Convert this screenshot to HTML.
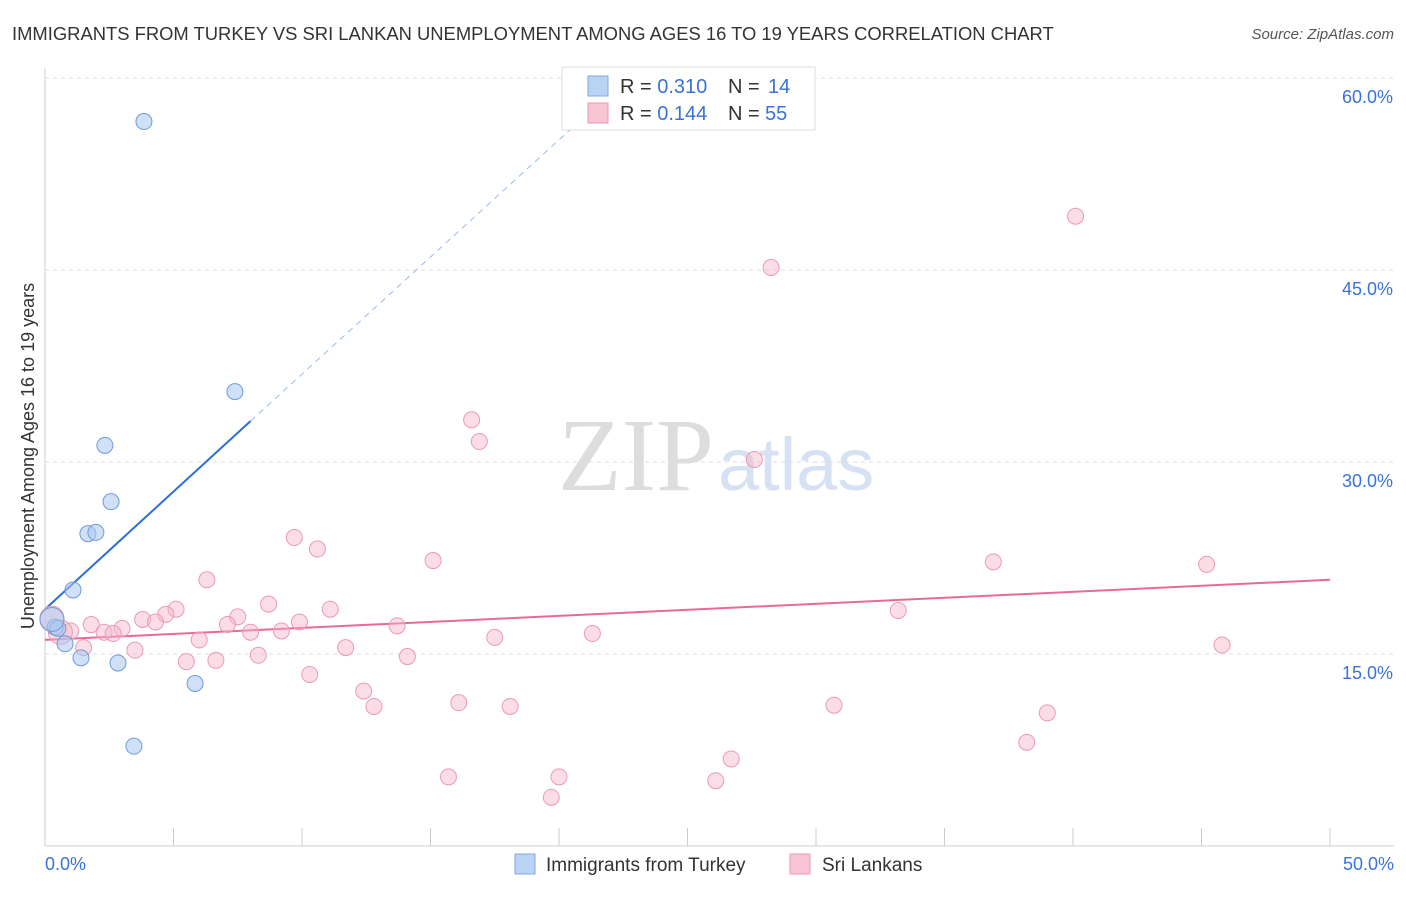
<!DOCTYPE html>
<html><head><meta charset="utf-8"><style>
body{margin:0;background:#fff;font-family:"Liberation Sans",sans-serif;}
svg text{font-family:"Liberation Sans",sans-serif;}
</style></head><body>
<svg id="chart" width="1406" height="892">
<text x="12" y="40" font-size="18.4" fill="#333">IMMIGRANTS FROM TURKEY VS SRI LANKAN UNEMPLOYMENT AMONG AGES 16 TO 19 YEARS CORRELATION CHART</text>
<text x="1394" y="39" font-size="15" fill="#555" font-style="italic" text-anchor="end">Source: ZipAtlas.com</text>
<text x="714" y="490" font-size="104" fill="#ddd" text-anchor="end" font-family="Liberation Serif" style="font-family:'Liberation Serif',serif">ZIP</text>
<text x="718" y="490" font-size="74" fill="#d6e2f4">atlas</text>
<text transform="translate(34,456) rotate(-90)" font-size="18" fill="#333" text-anchor="middle">Unemployment Among Ages 16 to 19 years</text>
<g id="grid"></g><g id="ticks"></g><g id="lines"></g><g id="pts"></g>
<g>
<rect x="562" y="67" width="253" height="63" fill="#fff" stroke="#ddd"/>
<rect x="588" y="76" width="20" height="20" fill="#b9d3f5" stroke="#7fa8e0"/>
<rect x="588" y="103" width="20" height="20" fill="#f9c4d4" stroke="#ee99b4"/>
<text x="620" y="93" font-size="20" fill="#333">R = <tspan fill="#3a72d8">0.310</tspan></text>
<text x="728" y="93" font-size="20" fill="#333">N = <tspan x="768" fill="#3a72d8">14</tspan></text>
<text x="620" y="120" font-size="20" fill="#333">R = <tspan fill="#3a72d8">0.144</tspan></text>
<text x="728" y="120" font-size="20" fill="#333">N = <tspan x="765" fill="#3a72d8">55</tspan></text>
</g>
<g>
<rect x="515" y="854" width="20" height="20" fill="#b9d3f5" stroke="#7fa8e0"/>
<text x="546" y="871" font-size="19" fill="#333">Immigrants from Turkey</text>
<rect x="790" y="854" width="20" height="20" fill="#f9c4d4" stroke="#ee99b4"/>
<text x="822" y="871" font-size="19" fill="#333">Sri Lankans</text>
</g>
</svg>
<script>
const xTicks=[0,50];
const yTicks=[15,30,45,60];
const turkeyX=[3.85,7.39,2.33,2.57,1.67,1.98,1.09,0.39,0.5,0.78,1.4,2.84,5.84,3.46,0.27];
const turkeyY=[56.6,35.5,31.3,26.9,24.4,24.5,20.0,17.1,17.0,15.8,14.7,14.3,12.7,7.8,17.7];
const lankaX=[40.1,28.25,16.6,16.9,27.6,9.7,10.6,15.1,36.9,45.2,6.3,8.7,5.1,11.1,4.7,33.2,3.8,4.3,7.5,7.1,9.9,13.7,1.8,3.0,2.3,2.65,8.0,9.2,17.5,21.3,1.0,6.0,45.8,3.5,1.5,11.7,8.3,14.1,5.5,6.65,10.3,12.4,12.8,16.1,18.1,30.7,39.0,38.2,26.7,15.7,20.0,26.1,19.7,0.27,0.6];
const lankaY=[49.2,45.2,33.3,31.6,30.2,24.1,23.2,22.3,22.2,22.0,20.8,18.9,18.5,18.5,18.1,18.4,17.7,17.5,17.9,17.3,17.5,17.2,17.3,17.0,16.7,16.6,16.7,16.8,16.3,16.6,16.8,16.1,15.7,15.3,15.5,15.5,14.9,14.8,14.4,14.5,13.4,12.1,10.9,11.2,10.9,11.0,10.4,8.1,6.8,5.4,5.4,5.1,3.8,17.8,16.7];
const turkeyTrend=[[0,18.5],[8.0,33.2],[21,57]];
const lankaTrend=[[0,16.1],[50,20.8]];
const NS="http://www.w3.org/2000/svg";
const X=v=>45+v*25.7, Y=v=>846-v*12.8;
function mk(t,a,p){const e=document.createElementNS(NS,t);for(const k in a)e.setAttribute(k,a[k]);document.getElementById(p).appendChild(e);return e;}
yTicks.forEach(v=>{
 const l=mk('line',{x1:45,x2:1394,y1:Y(v),y2:Y(v),stroke:'#ddd','stroke-dasharray':'4,4'},'grid');
 
 
 const t=mk('text',{x:1393,y:Y(v)+25,'font-size':18,fill:'#3a72d8','text-anchor':'end'},'ticks');t.textContent=v.toFixed(1)+'%';
 
 
});
mk('line',{x1:45,x2:45,y1:68,y2:846,stroke:'#ccc'},'grid');
mk('line',{x1:45,x2:1394,y1:846,y2:846,stroke:'#ccc'},'grid');
for(let i=1;i<=10;i++)mk('line',{x1:45+i*128.5,x2:45+i*128.5,y1:828,y2:846,stroke:'#ccc'},'grid');
xTicks.forEach((v,i)=>{
 const t=mk('text',{x:i?1394:45,y:870,'font-size':18,fill:'#3a72d8','text-anchor':i?'end':'start'},'ticks');t.textContent=v.toFixed(1)+'%';
 
 
});
let a=turkeyTrend;
let l1=mk('line',{x1:X(a[0][0]),y1:Y(a[0][1]),x2:X(a[1][0]),y2:Y(a[1][1]),stroke:'#2d6fd6','stroke-width':2},'lines');


let l2=mk('line',{x1:X(a[1][0]),y1:Y(a[1][1]),x2:X(a[2][0]),y2:Y(a[2][1]),stroke:'#9dbbe8','stroke-width':1,'stroke-dasharray':'6,5'},'lines');


let b=lankaTrend;
let l3=mk('line',{x1:X(b[0][0]),y1:Y(b[0][1]),x2:X(b[1][0]),y2:Y(b[1][1]),stroke:'#e8699a','stroke-width':2},'lines');


lankaX.forEach((v,i)=>{
 const r=i>=53?12:8;
 const c=mk('circle',{cx:X(v),cy:Y(lankaY[i]),r:r,fill:'rgba(246,180,200,0.45)',stroke:'#eb9ab6','stroke-width':1},'pts');
 
 
});
turkeyX.forEach((v,i)=>{
 const r=i==14?12:8;
 const c=mk('circle',{cx:X(v),cy:Y(turkeyY[i]),r:r,fill:'rgba(170,200,240,0.55)',stroke:'#6e9bd9','stroke-width':1},'pts');
 
 
});
</script>
</body></html>
